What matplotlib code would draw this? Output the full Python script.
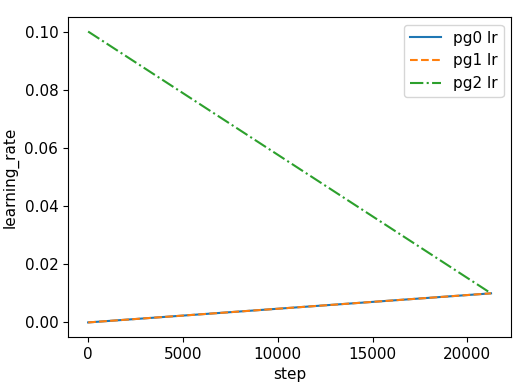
import matplotlib
matplotlib.use("Agg")
import matplotlib.pyplot as plt

plt.rcParams["font.size"] = 11

steps = [0, 21250]
pg0_lr = [0.0, 0.01]
pg1_lr = [0.0, 0.01]
pg2_lr = [0.1, 0.01]
labels = ["pg0 lr", "pg1 lr", "pg2 lr"]

fig = plt.figure(figsize=(5.27, 3.86), dpi=100)
ax = fig.add_axes([0.129, 0.127, 0.841, 0.829])
ax.plot(steps, pg0_lr, "-", color="#1f77b4", label=labels[0])
ax.plot(steps, pg1_lr, "--", color="#ff7f0e", label=labels[1])
ax.plot(steps, pg2_lr, "-.", color="#2ca02c", label=labels[2])
ax.set_xlabel("step")
ax.set_ylabel("learning_rate")
ax.legend(loc="upper right")
fig.savefig("out.png", dpi=100)
